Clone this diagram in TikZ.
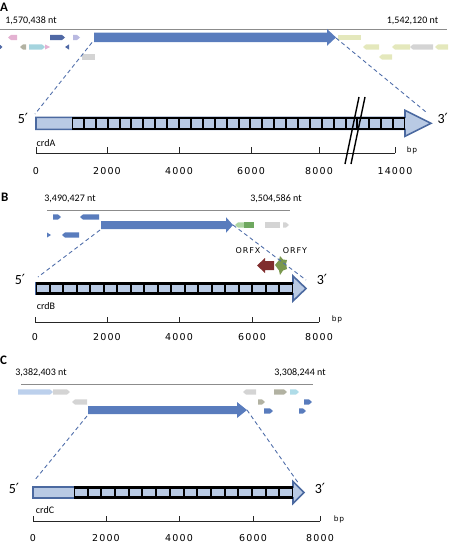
\documentclass[tikz,border=0pt]{standalone}
\usepackage{fontspec}
\setmainfont{Carlito}
\newfontfamily\axfont[LetterSpace=12]{DejaVu Sans}
\newfontfamily\orffont[LetterSpace=12]{DejaVu Sans}
\newfontfamily\primefont{DejaVu Sans}
\definecolor{genblue}{RGB}{89,124,189}
\definecolor{lightb}{RGB}{185,202,228}
\definecolor{outlineb}{RGB}{75,105,160}
\definecolor{dashb}{RGB}{80,110,170}
\definecolor{pinkg}{RGB}{228,178,210}
\definecolor{lavg}{RGB}{185,185,225}
\definecolor{cyang}{RGB}{165,212,222}
\definecolor{grayg}{RGB}{212,212,212}
\definecolor{taupe}{RGB}{178,178,162}
\definecolor{yellowg}{RGB}{228,232,188}
\definecolor{darkblueg}{RGB}{80,105,165}
\definecolor{lgreen}{RGB}{172,212,160}
\definecolor{dgreen}{RGB}{110,168,95}
\definecolor{redbrown}{RGB}{128,45,45}
\definecolor{greenorf}{RGB}{122,152,78}
\definecolor{lightblueC}{RGB}{188,208,236}
\definecolor{cyanlight}{RGB}{175,220,232}
\definecolor{gline}{RGB}{140,140,140}
% small genes: x1 x2 y colour
\newcommand{\gR}[4]{\fill[#4] (#1,{#3-2.6}) -- ({#2-3},{#3-2.6}) -- (#2,#3) -- ({#2-3},{#3+2.6}) -- (#1,{#3+2.6}) -- cycle;}
\newcommand{\gL}[4]{\fill[#4] (#2,{#3-2.6}) -- ({#1+3},{#3-2.6}) -- (#1,#3) -- ({#1+3},{#3+2.6}) -- (#2,{#3+2.6}) -- cycle;}
\newcommand{\gB}[4]{\fill[#4] (#1,{#3-2.6}) rectangle (#2,{#3+2.6});}
% big gene arrow: x1 tip y bodyhalf headhalf headlength
\newcommand{\bigarrow}[6]{\fill[genblue] (#1,{#3-#4}) -- ({#2-#6},{#3-#4}) -- ({#2-#6},{#3-#5}) -- (#2,#3) -- ({#2-#6},{#3+#5}) -- ({#2-#6},{#3+#4}) -- (#1,{#3+#4}) -- cycle;}
% crd arrow: x1 xbox xend xtip yc bodyhalf headhalf n
\newcommand{\crdarrow}[8]{%
  \filldraw[fill=lightb,draw=outlineb,line width=1.6pt,line join=miter] (#1,{#5-#6}) -- (#3,{#5-#6}) -- (#3,{#5-#7}) -- (#4,#5) -- (#3,{#5+#7}) -- (#3,{#5+#6}) -- (#1,{#5+#6}) -- cycle;
  \fill[black] (#2,{#5-#6-0.6}) rectangle (#3,{#5+#6+0.6});
  \pgfmathsetmacro\sqw{(#3-#2)/#8}
  \foreach \i in {1,...,#8} {\fill[lightb] ({#2+(\i-1)*\sqw+1.0},{#5-#6+1.6}) rectangle ({#2+\i*\sqw-1.0},{#5+#6-1.6});}
}
\begin{document}
\begin{tikzpicture}[x=1pt,y=-1pt,
  lbl/.style={inner sep=0,font=\fontsize{10}{12}\selectfont},
  panel/.style={inner sep=0,font=\fontsize{13}{15}\selectfont\bfseries},
  prime/.style={inner sep=0,font=\fontsize{14}{16}\selectfont},
  axnum/.style={inner sep=0,font=\axfont\fontsize{9.5}{11}\selectfont},
  bpl/.style={inner sep=0,font=\orffont\fontsize{7.5}{8}\selectfont},
  orf/.style={inner sep=0,font=\orffont\fontsize{8}{9}\selectfont},
  genomeline/.style={draw=gline,line width=1pt},
  zoomline/.style={draw=dashb,dash pattern=on 4pt off 3pt,line width=0.9pt},
  axisline/.style={draw=black!85,line width=0.9pt},
  breakline/.style={draw=black,line width=1.4pt},
]
\useasboundingbox (0,0) rectangle (448,543);

%%%%%%%%%%%%%%%% Panel A
\node[panel,anchor=west] (pA) at (0,7) {A};
\node[lbl] (Astart) at (31,20.5) {1,570,438 nt};
\node[lbl] (Aend) at (412.5,20.5) {1,542,120 nt};
\coordinate (Ag1) at (0,30); \coordinate (Ag2) at (447,30);
\draw[genomeline] (Ag1) -- (Ag2);
\gL{8}{17}{37.5}{pinkg}
\gR{50}{65}{37.5}{darkblueg}
\gR{73}{80}{37.5}{lavg}
\fill[darkblueg] (0,44.8) -- (2.5,47) -- (0,49.2) -- cycle;
\gL{20}{26}{47}{taupe}
\gR{29}{45}{47}{cyang}
\fill[pinkg] (45,44.4) -- (50,47) -- (45,49.6) -- cycle;
\fill[darkblueg] (69,44.4) -- (65,47) -- (69,49.6) -- cycle;
\gB{82}{95}{57}{grayg}
\gB{338}{361}{37.5}{yellowg}
\gL{363}{379}{47}{yellowg}
\gL{392}{410}{47}{yellowg}
\gL{410}{433}{47}{grayg}
\gL{435}{448}{47}{yellowg}
\gL{379}{392}{57}{yellowg}
\bigarrow{94}{336}{37.4}{4.8}{8.4}{9}
\coordinate (AbigL) at (92,42.5);
\coordinate (AbigR) at (336,38);
\crdarrow{36}{72}{405}{431}{123.3}{6}{13}{28}
\coordinate (AcrdL) at (35,114);
\coordinate (AcrdR) at (426,112);
\draw[zoomline] (AbigL) -- (AcrdL);
\draw[zoomline] (AbigR) -- (AcrdR);
\node[prime] (A5) at (23,118) {5{\primefont ′}};
\node[prime,anchor=east] (A3) at (448,118) {3{\primefont ′}};
\node[lbl] (Acrd) at (46,143) {crdA};
% axis
\coordinate (Aax0) at (36,153); \coordinate (Aax1) at (395,153);
\draw[axisline] (Aax0) -- (Aax1);
\foreach \x/\t in {36/0,107/2000,179/4000,251/6000,319/8000,395/14000}{
  \draw[axisline] (\x,153) -- (\x,147);
  \node[axnum] at (\x,171) {\t};
}
\node[bpl] (Abp) at (412,150) {bp};
\draw[breakline] (345,164) -- (359,97);
\draw[breakline] (351,164) -- (365,97);

%%%%%%%%%%%%%%%% Panel B
\node[panel,anchor=west] (pB) at (1,197) {B};
\node[lbl] (Bstart) at (70,199) {3,490,427 nt};
\node[lbl] (Bend) at (276,199) {3,504,586 nt};
\coordinate (Bg1) at (47,210); \coordinate (Bg2) at (290,210);
\draw[genomeline] (Bg1) -- (Bg2);
\gR{53}{61}{217}{genblue}
\gL{80}{99}{217}{genblue}
\fill[genblue] (47,232.5) -- (51,235) -- (47,237.5) -- cycle;
\gL{62}{79}{235}{genblue}
\gL{235}{244}{225}{lgreen}
\gB{244}{254}{225}{dgreen}
\gB{265}{280}{225}{grayg}
\gR{283}{289}{225}{grayg}
\bigarrow{101}{233}{225}{4}{7.8}{7}
\node[orf] (orfx) at (248,251) {ORFX};
\node[orf] (orfy) at (295,251) {ORFY};
\fill[redbrown] (257,265.5) -- (265,258) -- (265,261) -- (274,261) -- (274,270) -- (265,270) -- (265,273) -- cycle;
\fill[greenorf] (275,265) -- (279,260) -- (280,256) -- (283,259.5) -- (287,260) -- (286,264) -- (287,269) -- (283,270.5) -- (280,275) -- (279,270.5) -- cycle;
\coordinate (BbigL) at (100,230);
\coordinate (BbigR) at (233,225);
\crdarrow{36}{36}{293}{306}{288.5}{5.5}{12.5}{19}
\coordinate (BcrdL) at (38,277);
\coordinate (BcrdR) at (306,280);
\draw[zoomline] (BbigL) -- (BcrdL);
\draw[zoomline] (BbigR) -- (BcrdR);
\node[prime] (B5) at (20,279) {5{\primefont ′}};
\node[prime] (B3) at (322,279) {3{\primefont ′}};
\node[lbl] (Bcrd) at (46,306) {crdB};
\coordinate (Bax0) at (35,322); \coordinate (Bax1) at (319,322);
\draw[axisline] (Bax0) -- (Bax1);
\foreach \x/\t in {35/0,107/2000,179/4000,252/6000,319/8000}{
  \draw[axisline] (\x,322) -- (\x,317);
  \node[axnum] at (\x,337) {\t};
}
\node[bpl] (Bbp) at (337,319) {bp};

%%%%%%%%%%%%%%%% Panel C
\node[panel,anchor=west] (pC) at (0,360) {C};
\node[lbl] (Cstart) at (41,373) {3,382,403 nt};
\node[lbl] (Cend) at (300,373) {3,308,244 nt};
\coordinate (Cg1) at (21,384); \coordinate (Cg2) at (313,384);
\draw[genomeline] (Cg1) -- (Cg2);
\gR{18}{53}{392}{lightblueC}
\gR{53}{70}{392}{grayg}
\gL{243}{256}{392}{grayg}
\gR{274}{287}{392}{taupe}
\gR{290}{299}{392}{cyanlight}
\gL{72}{87}{402}{grayg}
\gR{258}{265}{402}{taupe}
\gR{304}{312}{402}{genblue}
\gR{264}{273}{411}{genblue}
\gR{299}{306}{411}{genblue}
\bigarrow{88}{247}{410}{4}{8}{10}
\coordinate (CbigL) at (87,416);
\coordinate (CbigR) at (247,410);
\crdarrow{33}{74}{293}{304}{492.5}{5.5}{11}{16}
\coordinate (CcrdL) at (34,481);
\coordinate (CcrdR) at (299,484);
\draw[zoomline] (CbigL) -- (CcrdL);
\draw[zoomline] (CbigR) -- (CcrdR);
\node[prime] (C5) at (14,488) {5{\primefont ′}};
\node[prime] (C3) at (320,488) {3{\primefont ′}};
\node[lbl] (Ccrd) at (45,510) {crdC};
\coordinate (Cax0) at (33,521); \coordinate (Cax1) at (320,521);
\draw[axisline] (Cax0) -- (Cax1);
\foreach \x/\t in {33/0,106/2000,179/4000,253/6000,320/8000}{
  \draw[axisline] (\x,521) -- (\x,516);
  \node[axnum] at (\x,538.5) {\t};
}
\node[bpl] (Cbp) at (339,519) {bp};
\end{tikzpicture}
\end{document}
